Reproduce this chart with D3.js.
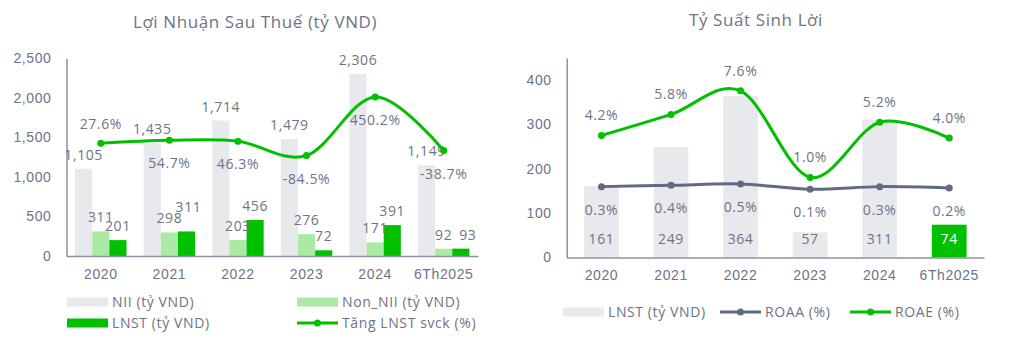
<!DOCTYPE html>
<html>
<head>
<meta charset="utf-8">
<script src="https://cdn.jsdelivr.net/npm/d3@7"></script>
<style>
  html, body { margin: 0; padding: 0; background: #ffffff; }
  svg { display: block; font-family: "Open Sans", "Noto Sans", sans-serif; letter-spacing: 0.6px; }
</style>
</head>
<body>
<svg id="chart" width="1010" height="340"></svg>
<script>
// ---- data ----
const years = ["2020", "2021", "2022", "2023", "2024", "6Th2025"];
const nii = [1105, 1435, 1714, 1479, 2306, 1149];
const nonNii = [311, 298, 203, 276, 171, 92];
const lnst = [201, 311, 456, 72, 391, 93];
const lnstGrowth = [27.6, 54.7, 46.3, -84.5, 450.2, -38.7];
const lnstQuarter = [161, 249, 364, 57, 311, 74];
const roaa = [0.3, 0.4, 0.5, 0.1, 0.3, 0.2];
const roae = [4.2, 5.8, 7.6, 1.0, 5.2, 4.0];
const leftTicks = [0, 500, 1000, 1500, 2000, 2500];
const rightTicks = [0, 100, 200, 300, 400];

// ---- styles ----
const TXT = "#6e7386";
const AXIS = "#8c92a4";
const GREY_BAR = "#e8e9ed";
const LIGHT_GREEN = "#aaeaa5";
const GREEN = "#00c000";
const SLATE = "#5f6a84";
const FS = 14;

const svg = d3.select("#chart");
const fmt = d3.format(",");
const pct = v => v.toFixed(1) + "%";
const smooth = d3.curveCardinal.tension(0);

// =========== Left chart: Lợi Nhuận Sau Thuế ===========
const L = svg.append("g");
const xL = d3.scaleBand().domain(years).range([66.5, 478]);
const xSub = d3.scaleBand().domain(["nii", "non", "lnst"]).range([0, xL.bandwidth()]).paddingOuter(0.5);
const yL = d3.scaleLinear().domain([0, 2500]).range([256, 58.5]);
const yL2 = d3.scaleLinear().domain([-1000, 800]).range([256, 58.5]);

L.append("text").attr("x", 255).attr("y", 28).attr("text-anchor", "middle")
  .attr("fill", TXT).attr("font-size", 17).text("Lợi Nhuận Sau Thuế (tỷ VND)");

const seriesL = [
  { key: "nii", vals: nii, color: GREY_BAR },
  { key: "non", vals: nonNii, color: LIGHT_GREEN },
  { key: "lnst", vals: lnst, color: GREEN }
];

seriesL.forEach(s => {
  L.append("g").selectAll("rect").data(s.vals).join("rect")
    .attr("x", (d, i) => xL(years[i]) + xSub(s.key))
    .attr("width", xSub.bandwidth())
    .attr("y", d => yL(d))
    .attr("height", d => yL(0) - yL(d))
    .attr("fill", s.color);
});

// y axis
const axL = L.append("g").attr("transform", `translate(${xL.range()[0]},0)`)
  .call(d3.axisLeft(yL).tickValues(leftTicks).tickSize(0).tickPadding(15).tickFormat(fmt));
axL.select(".domain").attr("stroke", AXIS).attr("stroke-width", 1.5);
axL.selectAll("text").attr("fill", TXT).attr("font-size", FS).attr("font-family", null);

// x axis
const axLx = L.append("g").attr("transform", `translate(0,${yL(0)})`)
  .call(d3.axisBottom(xL).tickSize(0).tickPadding(13));
axLx.select(".domain").attr("stroke", AXIS).attr("stroke-width", 1.5);
axLx.selectAll("text").attr("fill", TXT).attr("font-size", FS).attr("font-family", null);

// bar value labels; a couple of LNST labels are nudged clear of their neighbours
const nudge = { "lnst-1": [2, -10], "lnst-5": [7, 0] };
seriesL.forEach(s => {
  L.append("g").selectAll("text").data(s.vals).join("text")
    .attr("x", (d, i) => xL(years[i]) + xSub(s.key) + xSub.bandwidth() / 2 + ((nudge[s.key + "-" + i] || [0, 0])[0]))
    .attr("y", (d, i) => yL(d) - 9 + ((nudge[s.key + "-" + i] || [0, 0])[1]))
    .attr("text-anchor", "middle").attr("fill", TXT).attr("font-size", FS)
    .text(d => fmt(d));
});

// growth line
const lineL = d3.line()
  .x((d, i) => xL(years[i]) + xL.bandwidth() / 2)
  .y(d => yL2(d)).curve(smooth);
L.append("path").datum(lnstGrowth).attr("d", lineL)
  .attr("fill", "none").attr("stroke", GREEN).attr("stroke-width", 3);
L.append("g").selectAll("circle").data(lnstGrowth).join("circle")
  .attr("cx", (d, i) => xL(years[i]) + xL.bandwidth() / 2)
  .attr("cy", d => yL2(d)).attr("r", 3.5).attr("fill", GREEN);
L.append("g").selectAll("text").data(lnstGrowth).join("text")
  .attr("x", (d, i) => xL(years[i]) + xL.bandwidth() / 2)
  .attr("y", (d, i) => i === 0 ? yL2(d) - 14 : yL2(d) + 28)
  .attr("text-anchor", "middle").attr("fill", TXT).attr("font-size", FS)
  .text(pct);

// legend
const legL = [
  { label: "NII (tỷ VND)", color: GREY_BAR, x: 67, y: 302, type: "box" },
  { label: "Non_NII (tỷ VND)", color: LIGHT_GREEN, x: 297, y: 302, type: "box" },
  { label: "LNST (tỷ VND)", color: GREEN, x: 67, y: 323, type: "box" },
  { label: "Tăng LNST svck (%)", color: GREEN, x: 297, y: 323, type: "line" }
];

function legendItem(g, it) {
  if (it.type === "box") {
    g.append("rect").attr("x", it.x).attr("y", it.y - 4.5).attr("width", 41).attr("height", 9).attr("fill", it.color);
  } else {
    g.append("line").attr("x1", it.x).attr("x2", it.x + 41).attr("y1", it.y).attr("y2", it.y)
      .attr("stroke", it.color).attr("stroke-width", 3);
    g.append("circle").attr("cx", it.x + 20.5).attr("cy", it.y).attr("r", 3.5).attr("fill", it.color);
  }
  g.append("text").attr("x", it.x + 45).attr("y", it.y).attr("dy", "0.35em")
    .attr("fill", TXT).attr("font-size", FS).text(it.label);
}
legL.forEach(it => legendItem(L, it));

// =========== Right chart: Tỷ Suất Sinh Lời ===========
const R = svg.append("g");
const xR = d3.scaleBand().domain(years).range([566.7, 984]);
const yR = d3.scaleLinear().domain([0, 450]).range([257.5, 58]);
const yR2 = d3.scaleLinear().domain([-5.1, 10.1]).range([257.5, 58]);
const cx = i => xR(years[i]) + xR.bandwidth() / 2;
const barW = xR.bandwidth() * 0.5;

R.append("text").attr("x", 756).attr("y", 26).attr("text-anchor", "middle")
  .attr("fill", TXT).attr("font-size", 17).text("Tỷ Suất Sinh Lời");

R.append("g").selectAll("rect").data(lnstQuarter).join("rect")
  .attr("x", (d, i) => cx(i) - barW / 2)
  .attr("width", barW)
  .attr("y", d => yR(d))
  .attr("height", d => yR(0) - yR(d))
  .attr("fill", (d, i) => i === years.length - 1 ? GREEN : GREY_BAR);

const axR = R.append("g").attr("transform", `translate(${xR.range()[0]},0)`)
  .call(d3.axisLeft(yR).tickValues(rightTicks).tickSize(0).tickPadding(15));
axR.select(".domain").attr("stroke", AXIS).attr("stroke-width", 1.5);
axR.selectAll("text").attr("fill", TXT).attr("font-size", FS).attr("font-family", null);

const axRx = R.append("g").attr("transform", `translate(0,${yR(0)})`)
  .call(d3.axisBottom(xR).tickSize(0).tickPadding(13));
axRx.select(".domain").attr("stroke", AXIS).attr("stroke-width", 1.5);
axRx.selectAll("text").attr("fill", TXT).attr("font-size", FS).attr("font-family", null);

// bar labels inside the base of each bar
R.append("g").selectAll("text").data(lnstQuarter).join("text")
  .attr("x", (d, i) => cx(i))
  .attr("y", yR(0) - 18).attr("dy", "0.35em")
  .attr("text-anchor", "middle")
  .attr("fill", (d, i) => i === years.length - 1 ? "#ffffff" : TXT)
  .attr("font-size", FS).text(d => d);

function drawLine(vals, color, labelDy) {
  const ln = d3.line().x((d, i) => cx(i)).y(d => yR2(d)).curve(smooth);
  R.append("path").datum(vals).attr("d", ln)
    .attr("fill", "none").attr("stroke", color).attr("stroke-width", 3);
  R.append("g").selectAll("circle").data(vals).join("circle")
    .attr("cx", (d, i) => cx(i)).attr("cy", d => yR2(d)).attr("r", 3.5).attr("fill", color);
  R.append("g").selectAll("text").data(vals).join("text")
    .attr("x", (d, i) => cx(i)).attr("y", d => yR2(d) + labelDy).attr("dy", "0.35em")
    .attr("text-anchor", "middle").attr("fill", TXT).attr("font-size", FS).text(pct);
}
drawLine(roaa, SLATE, 23);
drawLine(roae, GREEN, -20);

const legR = [
  { label: "LNST (tỷ VND)", color: GREY_BAR, x: 563, y: 312, type: "box" },
  { label: "ROAA (%)", color: SLATE, x: 720, y: 312, type: "line" },
  { label: "ROAE (%)", color: GREEN, x: 850, y: 312, type: "line" }
];
legR.forEach(it => legendItem(R, it));
</script>
</body>
</html>
